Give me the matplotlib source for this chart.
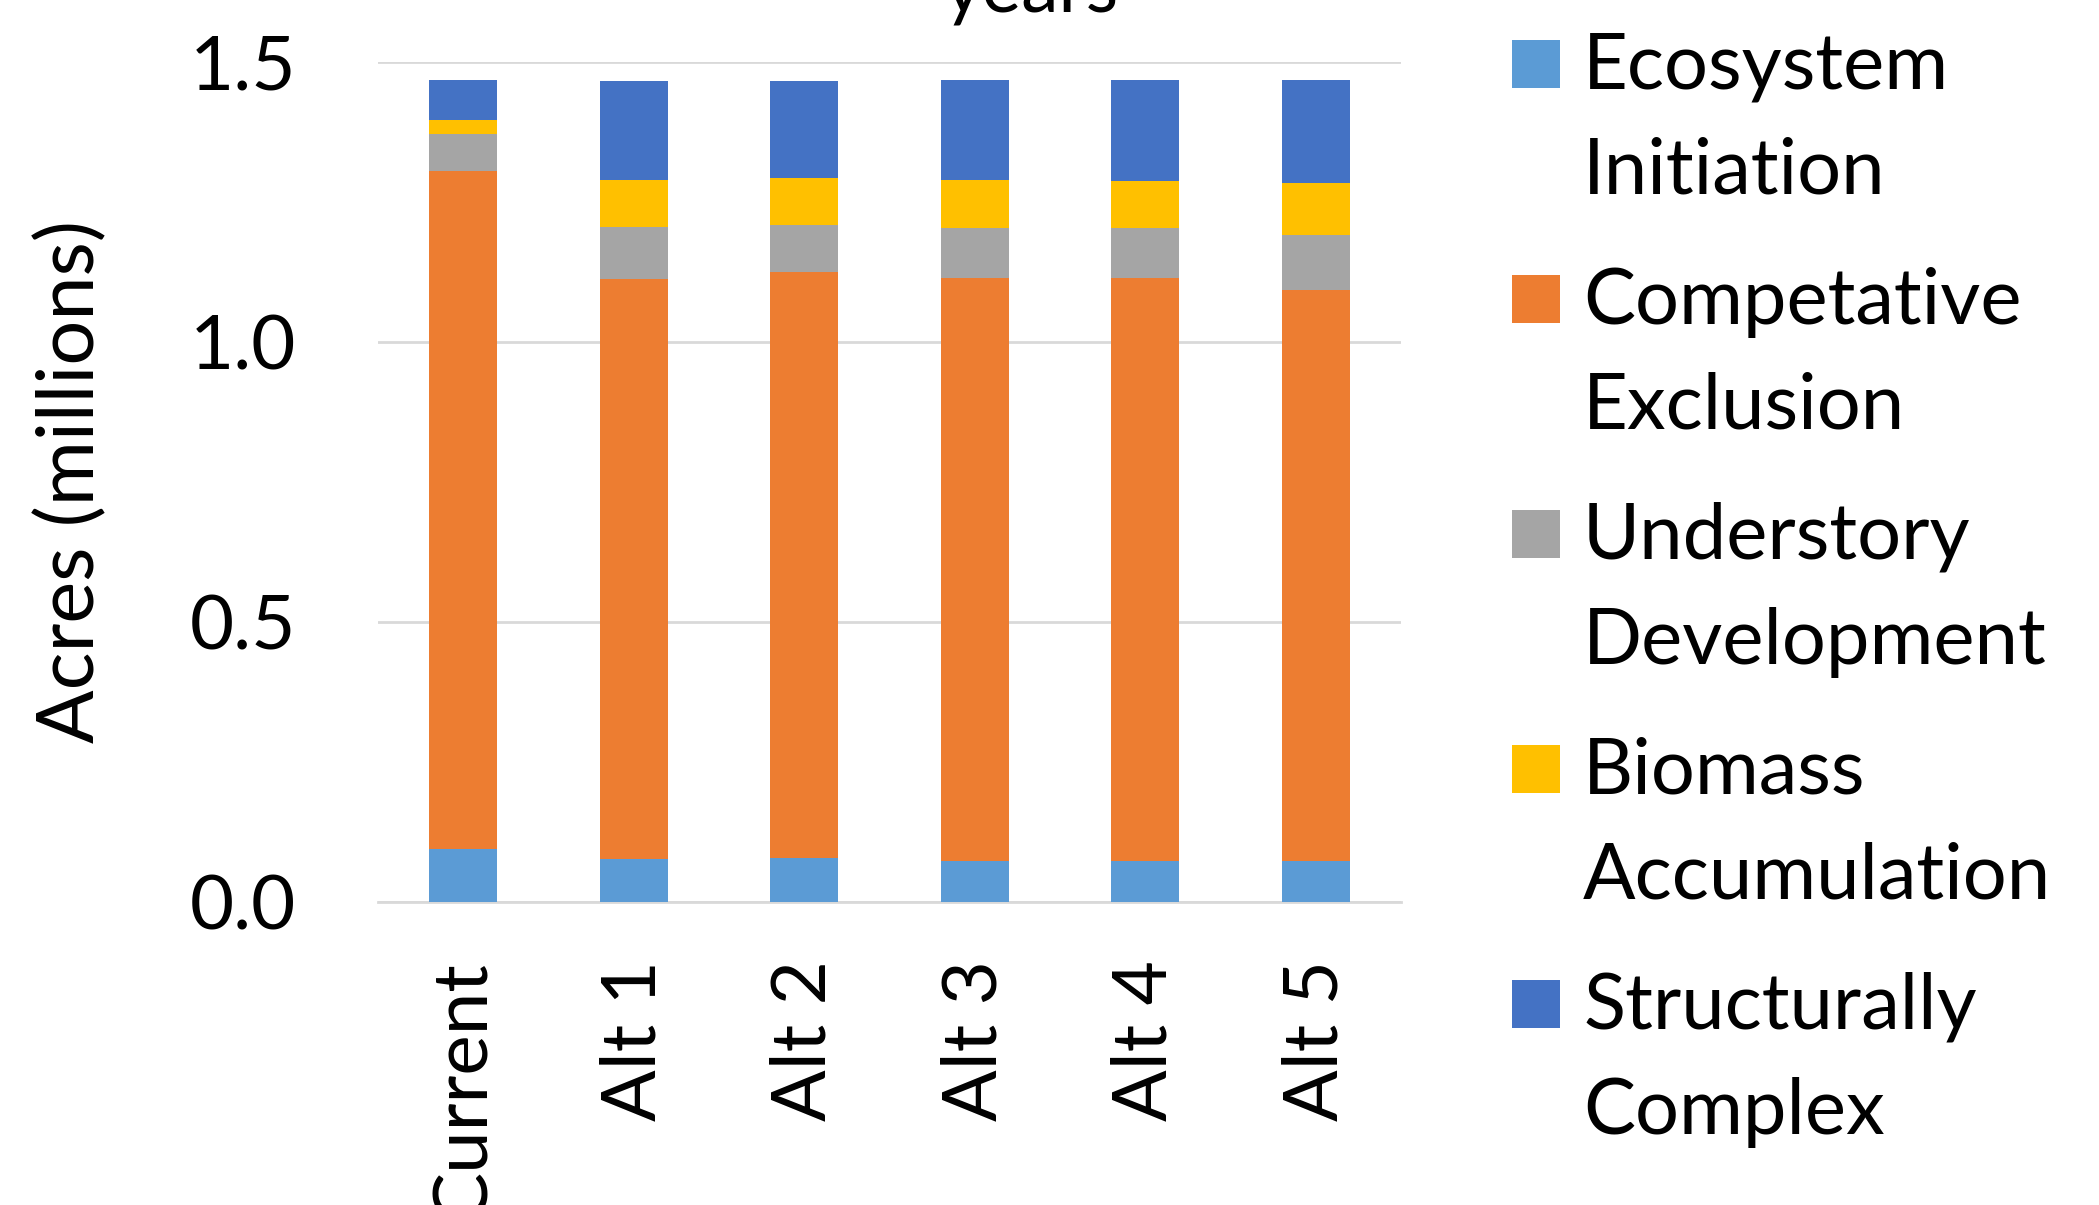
import matplotlib
matplotlib.use("Agg")
import matplotlib.pyplot as plt
from matplotlib.patches import Rectangle
import numpy as np

# data (millions of acres)
categories = ["Current", "Alt 1", "Alt 2", "Alt 3", "Alt 4", "Alt 5"]
stages = ["Ecosystem\nInitiation", "Competative\nExclusion", "Understory\nDevelopment",
          "Biomass\nAccumulation", "Structurally\nComplex"]
ecosystem_initiation = [0.094, 0.076, 0.078, 0.073, 0.073, 0.073]
competative_exclusion = [1.210, 1.035, 1.046, 1.040, 1.040, 1.019]
understory_development = [0.067, 0.093, 0.084, 0.090, 0.089, 0.099]
biomass_accumulation = [0.025, 0.085, 0.084, 0.086, 0.085, 0.093]
structurally_complex = [0.071, 0.177, 0.174, 0.178, 0.180, 0.183]
yticks = [0.0, 0.5, 1.0, 1.5]

colors = ["#5B9BD5", "#ED7D31", "#A5A5A5", "#FFC000", "#4472C4"]
series = [ecosystem_initiation, competative_exclusion, understory_development,
          biomass_accumulation, structurally_complex]

plt.rcParams['font.family'] = ['Lato', 'DejaVu Sans']

W, H = 2099, 1205
fig = plt.figure(figsize=(W / 100, H / 100), dpi=100)
ax = fig.add_axes([378 / W, 1 - 902 / H, (1401 - 378) / W, (902 - 61.5) / H])

x = np.arange(len(categories))
bottom = np.zeros(len(categories))
for vals, c in zip(series, colors):
    ax.bar(x, vals, width=0.4, bottom=bottom, color=c, linewidth=0, zorder=3)
    bottom += np.array(vals)

ax.set_xlim(-0.5, len(categories) - 0.5)
ax.set_ylim(0, 1.5)
ax.set_yticks(yticks)
ax.set_yticklabels([f"{v:.1f}" for v in yticks])
ax.set_xticks(x)
ax.set_xticklabels(categories, rotation=90, va='top')
ax.tick_params(axis='y', length=0, pad=59, labelsize=55)
ax.tick_params(axis='x', length=0, pad=42, labelsize=55)
ax.grid(axis='y', color='#d9d9d9', linewidth=2, zorder=0)
for s in ['top', 'right', 'left']:
    ax.spines[s].set_visible(False)
ax.spines['bottom'].set_color('#d9d9d9')
ax.spines['bottom'].set_linewidth(2)

fig.text(72 / W, 1 - 482 / H, "Acres (millions)", rotation=90,
         ha='center', va='center', fontsize=57)

# title, mostly above the visible area
fig.text(1031 / W, 1 - 13 / H, "years", ha='center', va='baseline', fontsize=54)

# legend drawn by hand: square aligned with first line of each label
for i, (lab, c) in enumerate(zip(stages, colors)):
    cy = 64 + i * 235
    fig.add_artist(Rectangle((1512 / W, 1 - (cy + 24) / H), 48 / W, 48 / H,
                             transform=fig.transFigure, color=c, linewidth=0))
    base = cy + 25
    for j, line in enumerate(lab.split("\n")):
        fig.text(1583 / W, 1 - (base + j * 104.5) / H, line,
                 ha='left', va='baseline', fontsize=56)

fig.savefig("out.png", dpi=100)
